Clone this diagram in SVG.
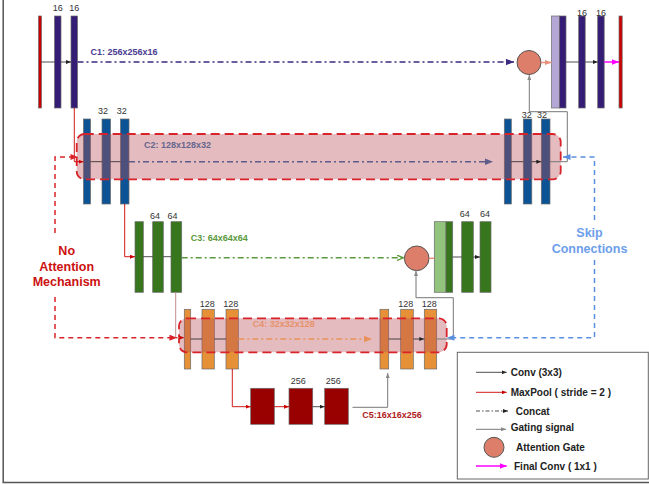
<svg xmlns="http://www.w3.org/2000/svg" width="649" height="485" viewBox="0 0 649 485">
<style>
text{font-family:"Liberation Sans",Arial,sans-serif}
.num{font-size:9px;fill:#333;text-anchor:middle}
.lbl{font-size:9px;font-weight:bold}
.leg{font-size:10px;font-weight:bold;fill:#222}
.bar{stroke:#6a6a6a;stroke-width:0.7}
.p{fill:#351c75}.lp{fill:#b4a7d6}.r{fill:#cc0000}.b{fill:#0b5394}.g{fill:#38761d}.lg{fill:#93c47d}.o{fill:#e69138}.dr{fill:#990000}
.band{fill:rgb(184,76,84);fill-opacity:0.38;stroke:#d9232a;stroke-width:1.8;stroke-dasharray:9 5}
.conv{fill:none;stroke:#222;stroke-width:0.8;marker-end:url(#mk)}
.pool{fill:none;stroke:#cc0000;stroke-width:0.9;marker-end:url(#mr)}
.gate{fill:none;stroke:#777;stroke-width:1;marker-end:url(#mg)}
.cc{fill:none;stroke-width:1.5;stroke-dasharray:6 3 2 3}
.ag{fill:#dd7e6b;stroke:#555;stroke-width:1}
.rd{fill:none;stroke:#d9232a;stroke-width:1.5;stroke-dasharray:5 4;marker-end:url(#mrd)}
.bd{fill:none;stroke:#5a8fe0;stroke-width:1.5;stroke-dasharray:5 4;marker-end:url(#mbd)}
</style>
<defs>
<marker id="mk" viewBox="0 0 10 8" refX="10" refY="4" markerWidth="5" markerHeight="4" markerUnits="userSpaceOnUse" orient="auto"><path d="M0,0L10,4L0,8z" fill="#222"/></marker>
<marker id="mr" viewBox="0 0 10 8" refX="10" refY="4" markerWidth="5" markerHeight="4" markerUnits="userSpaceOnUse" orient="auto"><path d="M0,0L10,4L0,8z" fill="#cc0000"/></marker>
<marker id="mg" viewBox="0 0 10 8" refX="10" refY="4" markerWidth="5" markerHeight="4" markerUnits="userSpaceOnUse" orient="auto"><path d="M0,0L10,4L0,8z" fill="#888"/></marker>
<marker id="mrd" viewBox="0 0 10 8" refX="10" refY="4" markerWidth="8" markerHeight="6" markerUnits="userSpaceOnUse" orient="auto"><path d="M0,0L10,4L0,8z" fill="#d9232a"/></marker>
<marker id="mbd" viewBox="0 0 10 8" refX="10" refY="4" markerWidth="8" markerHeight="6" markerUnits="userSpaceOnUse" orient="auto"><path d="M0,0L10,4L0,8z" fill="#5a8fe0"/></marker>
<marker id="mpu" viewBox="0 0 10 8" refX="10" refY="4" markerWidth="8" markerHeight="7" markerUnits="userSpaceOnUse" orient="auto"><path d="M0,0L10,4L0,8z" fill="#3c2a80"/></marker>
<marker id="mgp" viewBox="0 0 10 8" refX="10" refY="4" markerWidth="8" markerHeight="7" markerUnits="userSpaceOnUse" orient="auto"><path d="M0,0L10,4L0,8z" fill="#5d5c8a"/></marker>
<marker id="mgr" viewBox="0 0 10 8" refX="10" refY="4" markerWidth="7" markerHeight="6" markerUnits="userSpaceOnUse" orient="auto"><path d="M0,0L10,4L0,8" fill="none" stroke="#5a9a3c" stroke-width="2"/></marker>
<marker id="mor" viewBox="0 0 10 8" refX="10" refY="4" markerWidth="8" markerHeight="7" markerUnits="userSpaceOnUse" orient="auto"><path d="M0,0L10,4L0,8z" fill="#e8925a"/></marker>
<marker id="msa" viewBox="0 0 10 8" refX="10" refY="4" markerWidth="7" markerHeight="6" markerUnits="userSpaceOnUse" orient="auto"><path d="M0,0L10,4L0,8z" fill="#e8907c"/></marker>
<marker id="mmg" viewBox="0 0 10 8" refX="10" refY="4" markerWidth="7" markerHeight="6" markerUnits="userSpaceOnUse" orient="auto"><path d="M0,0L10,4L0,8z" fill="#ff00ff"/></marker>
</defs>
<rect width="649" height="485" fill="#fff"/>
<g id="frame" stroke="#555" stroke-width="1.5" fill="none"><path d="M3.2,0V482.5H649"/></g>

<g id="c1-encoder">
<rect class="bar r" x="38.5" y="16" width="3" height="92"/>
<rect class="bar p" x="54.5" y="16" width="6.5" height="92"/>
<rect class="bar p" x="71" y="16" width="6.5" height="92"/>
<text class="num" x="57.7" y="10.5">16</text><text class="num" x="74.3" y="10.5">16</text>
<text class="lbl" x="90.5" y="55" fill="#4b3b8f">C1: 256x256x16</text>
</g>
<g id="c1-decoder">
<rect class="bar lp" x="551.5" y="16" width="8" height="92"/>
<rect class="bar p" x="559.5" y="16" width="6.5" height="92"/>
<rect class="bar p" x="578.7" y="16" width="6.5" height="92"/>
<rect class="bar p" x="597.7" y="16" width="6.5" height="92"/>
<rect class="bar r" x="619" y="16" width="3.2" height="92"/>
<text class="num" x="582" y="16">16</text><text class="num" x="601" y="16">16</text>
</g>
<g id="ag1"><circle class="ag" cx="529" cy="62.5" r="12"/></g>

<g id="c2-encoder">
<rect class="bar b" x="83.5" y="119" width="7" height="85"/>
<rect class="bar b" x="102" y="119" width="8.5" height="85"/>
<rect class="bar b" x="120.5" y="119" width="8.5" height="85"/>
<text class="num" x="103" y="114">32</text><text class="num" x="121.7" y="114">32</text>
</g>
<g id="c2-decoder">
<rect class="bar b" x="504.3" y="119" width="7" height="85"/>
<rect class="bar b" x="523.3" y="119" width="8.5" height="85"/>
<rect class="bar b" x="541.3" y="119" width="8.7" height="85"/>
<text class="num" x="526.7" y="118">32</text><text class="num" x="542" y="118">32</text>
</g>
<g id="c2-band"><rect class="band" x="76.7" y="134" width="484" height="45.3" rx="8"/>
<text class="lbl" x="144" y="147.7" fill="#66668f">C2: 128x128x32</text></g>

<g id="c3-encoder">
<rect class="bar g" x="135" y="221.7" width="8.3" height="70.6"/>
<rect class="bar g" x="152.7" y="221.7" width="10.6" height="70.6"/>
<rect class="bar g" x="171" y="221.7" width="10.7" height="70.6"/>
<text class="num" x="155" y="218.5">64</text><text class="num" x="172.5" y="218.5">64</text>
<text class="lbl" x="190.7" y="240.7" fill="#5a9a3c">C3: 64x64x64</text>
</g>
<g id="c3-decoder">
<rect class="bar lg" x="434.3" y="221.7" width="11.7" height="70.6"/>
<rect class="bar g" x="446" y="221.7" width="6.7" height="70.6"/>
<rect class="bar g" x="461.7" y="221.7" width="11.6" height="70.6"/>
<rect class="bar g" x="480" y="221.7" width="11" height="70.6"/>
<text class="num" x="464.7" y="217">64</text><text class="num" x="485" y="217">64</text>
</g>
<g id="ag3"><circle class="ag" cx="416.7" cy="258.3" r="12.3"/></g>

<g id="c4-encoder">
<rect class="bar o" x="184.3" y="309.3" width="6.4" height="59.7"/>
<rect class="bar o" x="202" y="309.3" width="12.3" height="59.7"/>
<rect class="bar o" x="226" y="309.3" width="12.3" height="59.7"/>
<text class="num" x="207.3" y="306.7">128</text><text class="num" x="230.7" y="306.7">128</text>
</g>
<g id="c4-decoder">
<rect class="bar o" x="380" y="309.3" width="8.7" height="59.7"/>
<rect class="bar o" x="400.7" y="309.3" width="12.6" height="59.7"/>
<rect class="bar o" x="424.3" y="309.3" width="12.4" height="59.7"/>
<text class="num" x="405.7" y="306.7">128</text><text class="num" x="429.3" y="306.7">128</text>
</g>
<g id="c4-band"><rect class="band" x="179" y="318.3" width="267.7" height="34" rx="8"/>
<text class="lbl" x="252.7" y="326.7" fill="#e8926a">C4: 32x32x128</text></g>

<g id="c5-bottleneck">
<rect class="bar dr" x="250.7" y="388.3" width="23.6" height="36"/>
<rect class="bar dr" x="289" y="388.3" width="23.7" height="36"/>
<rect class="bar dr" x="324.7" y="388.3" width="23.6" height="36"/>
<text class="num" x="298.3" y="384">256</text><text class="num" x="333.3" y="384">256</text>
<text class="lbl" x="362.3" y="418" fill="#b01c1c">C5:16x16x256</text>
</g>

<g id="connectors">
<path class="conv" d="M41.5,62H54.5M61,62H71"/>
<path class="conv" d="M566,62H578.7M585.2,62H597.7"/>
<path d="M604.2,62H619" stroke="#ff00ff" stroke-width="1.5" marker-end="url(#mmg)"/>
<path class="cc" d="M77.5,62H514" stroke="#3c2a80" marker-end="url(#mpu)"/>
<path d="M541,62.5H551.5" stroke="#e8907c" stroke-width="1.5" marker-end="url(#msa)"/>
<path class="pool" d="M74.3,108V161.7H83.5"/>
<path class="conv" d="M90.5,161.7H102M110.5,161.7H120.5M511.3,161.7H523.3M531.8,161.7H541.3"/>
<path class="cc" d="M129,161.7H493" stroke="#5d5c8a" marker-end="url(#mgp)"/>
<path class="gate" d="M550,161.7H567.3V111.7H529.3V75"/>
<path class="pool" d="M124.7,204V256.7H135"/>
<path class="conv" d="M143.3,256.7H152.7M163.3,256.7H171M452.7,257H461.7M473.3,257H480"/>
<path class="cc" d="M181.7,257.8H403.5" stroke="#5a9a3c" marker-end="url(#mgr)"/>
<path d="M429,258.3H434.3" stroke="#e8907c" stroke-width="1.5"/>
<path class="gate" d="M436.7,339H453.3V297.7H416V271"/>
<path d="M175.7,292.3V337.7H184.3" fill="none" stroke="#c48a8a" stroke-width="1" marker-end="url(#mr)"/>
<path class="conv" d="M190.7,339H202M214.3,339H226M388.7,339H400.7M413.3,339H424.3"/>
<path class="cc" d="M238.3,339H372" stroke="#e8925a" marker-end="url(#mor)"/>
<path class="pool" d="M232.3,369V406.7H250.7"/>
<path class="pool" d="M274.3,406.7H289"/>
<path class="conv" d="M312.7,406.7H324.7"/>
<path class="gate" d="M352.5,407.3H387.7V373"/>
<path class="rd" d="M55,233V157H78"/>
<path class="rd" d="M55,297V337.7H177"/>
<path class="bd" d="M594.5,220V157H563"/>
<path class="bd" d="M594.5,260V337.7H447"/>
</g>

<g id="annotations">
<text x="66.7" y="255" font-size="12.5" font-weight="bold" fill="#cc1111" text-anchor="middle">No</text>
<text x="66.7" y="270.5" font-size="12.5" font-weight="bold" fill="#cc1111" text-anchor="middle">Attention</text>
<text x="66.7" y="286" font-size="12.5" font-weight="bold" fill="#cc1111" text-anchor="middle">Mechanism</text>
<text x="589.5" y="237" font-size="12.5" font-weight="bold" fill="#6d9eeb" text-anchor="middle">Skip</text>
<text x="589.5" y="252.5" font-size="12.5" font-weight="bold" fill="#6d9eeb" text-anchor="middle">Connections</text>
</g>

<g id="legend">
<rect x="457.3" y="352.3" width="191" height="126.7" fill="#fff" stroke="#666" stroke-width="1"/>
<path class="conv" d="M476,372.3H506.7"/>
<text class="leg" x="510.7" y="375.8">Conv (3x3)</text>
<path class="pool" d="M476,392.3H506.7"/>
<text class="leg" x="510.7" y="395.8">MaxPool ( stride = 2 )</text>
<path d="M476,411H508" fill="none" stroke="#222" stroke-width="0.8" stroke-dasharray="4 2 1.5 2" marker-end="url(#mk)"/>
<text class="leg" x="515.7" y="414.5">Concat</text>
<path class="gate" d="M476,429.3H506"/>
<text class="leg" x="510.7" y="430.5">Gating signal</text>
<circle class="ag" cx="494" cy="447.3" r="10"/>
<text class="leg" x="516" y="450.5">Attention Gate</text>
<path d="M476,466H506.7" stroke="#ff00ff" stroke-width="1.5" marker-end="url(#mmg)"/>
<text class="leg" x="514" y="469.5">Final Conv ( 1x1 )</text>
</g>
</svg>
